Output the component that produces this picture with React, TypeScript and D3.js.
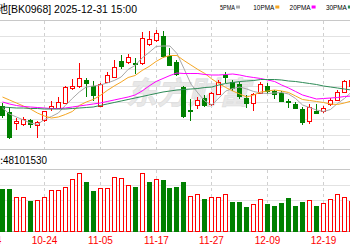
import React from "react";
import * as d3 from "d3";

// trading dates (first two are off-canvas, only used for the tick at 10-14)
const dates = ["10-14","10-15","10-16","10-17","10-20","10-21","10-22","10-23","10-24","10-27","10-28","10-29","10-30","10-31","11-03","11-04","11-05","11-06","11-07","11-10","11-11","11-12","11-13","11-14","11-17","11-18","11-19","11-20","11-21","11-24","11-25","11-26","11-27","11-28","12-01","12-02","12-03","12-04","12-05","12-08","12-09","12-10","12-11","12-12","12-15","12-16","12-17","12-18","12-19","12-22","12-23","12-24","12-25"];
const FIRST = 2; // candles start at 10-16

const opens = [1486,1474,1452,1450,1458,1448,1458,1482,1483,1493,1523,1526,1538,1526,1487,1535,1545,1576,1574,1573,1572,1610,1618,1627,1585,1575,1524,1478,1488,1503,1490,1511,1548,1535,1530,1503,1492,1513,1526,1516,1513,1497,1491,1481,1456,1477,1476,1490,1499,1515,1526];
const closes = [1468,1424,1456,1460,1450,1454,1476,1486,1494,1524,1526,1542,1532,1508,1531,1548,1565,1567,1584,1570,1622,1620,1631,1586,1569,1551,1466,1476,1499,1489,1512,1535,1544,1523,1505,1492,1510,1531,1516,1511,1497,1495,1483,1454,1484,1473,1483,1499,1515,1536,1538];
const highs = [1492,1484,1462,1464,1460,1456,1477,1496,1504,1526,1540,1572,1542,1536,1532,1553,1578,1588,1590,1582,1633,1637,1638,1636,1603,1578,1526,1500,1504,1508,1514,1538,1555,1538,1534,1508,1512,1534,1532,1518,1516,1500,1494,1484,1490,1491,1487,1503,1518,1538,1542];
const lows = [1464,1422,1440,1448,1444,1424,1457,1478,1482,1492,1520,1525,1506,1498,1486,1534,1544,1562,1572,1552,1571,1608,1616,1584,1568,1548,1465,1458,1482,1486,1488,1510,1534,1518,1502,1484,1478,1512,1512,1502,1496,1484,1482,1450,1452,1472,1474,1488,1498,1514,1522];
const volumes = [87.4,87.4,70.7,70.7,62.9,65,70.7,86,86,91.6,109,121,102.8,83.9,89.5,89.5,113.9,110.5,97.1,91.6,121,102.8,108.4,106.3,89.5,91.6,102.8,74,77,66.5,71.9,70.7,77.6,61.4,61.4,51,56.6,66.5,56,53,59.3,68.6,53,61.4,65,53,59.3,67.1,77,70.7,63.5];

const ma5 = [1482,1470,1464,1458,1452,1449,1459,1465,1472,1487,1501,1514,1524,1526,1528,1532,1537,1544,1559,1567,1582,1593,1605,1606,1606,1591,1561,1530,1512,1496,1488,1502,1516,1521,1524,1520,1515,1512,1511,1512,1513,1510,1501,1488,1483,1478,1475,1479,1491,1501,1514];
const ma10 = [1504,1498,1492,1486,1480,1472,1466,1462,1464,1469,1475,1487,1494,1499,1507,1517,1526,1534,1543,1547,1557,1565,1575,1583,1587,1587,1577,1568,1559,1551,1540,1531,1523,1516,1510,1504,1508,1514,1516,1518,1516,1513,1506,1499,1497,1495,1493,1490,1489,1492,1496];
const ma20 = [1494,1490,1487,1485,1484,1483,1482,1481,1481,1482,1484,1486,1488,1490,1492,1495,1498,1501,1504,1508,1516,1526,1535,1541,1547,1552,1551,1551,1551,1549,1548,1548,1549,1550,1548,1545,1543,1541,1538,1535,1528,1522,1515,1508,1504,1500,1501,1502,1503,1505,1506];
const ma30 = [1484,1483,1482,1482,1481,1481,1480,1480,1480,1480,1481,1482,1483,1484,1487,1490,1493,1496,1499,1502,1505,1508,1511,1514,1516,1518,1519,1520,1521,1523,1524,1528,1531,1533,1535,1536,1537,1539,1539,1539,1538,1536,1535,1533,1531,1529,1526,1524,1522,1520,1518];

const tickDates = ["10-14","10-24","11-05","11-17","11-27","12-09","12-19"];
const priceGrid = [1428,1461,1494,1527,1560,1593,1626];
const volGrid = [32.5,65,97.5];
const legendNames = ["5PMA","10PMA","20PMA","30PMA"];
const maColors = ["#a8a8a8","#f5a623","#ff00ff","#2e8b57"];
const maSeries = [ma5, ma10, ma20, ma30];

const RED = "#ff0000";
const GREEN = "#008000";

export default function App() {
  const W = 350, H = 250;
  const x = d3.scaleLinear().domain([2, 48]).range([2, 323]);
  const y = d3.scaleLinear().domain([1400, 1658]).range([149, 20]);
  const yv = d3.scaleLinear().domain([0, 130]).range([231, 169]);
  const cx = (k: number) => Math.round(x(k + FIRST));
  const ry = (v: number) => Math.round(y(v));

  const line = d3.line<number>().x((_, k) => x(k + FIRST) + 0.5).y((v) => y(v));

  const tickX = tickDates.map((t) => Math.round(x(dates.indexOf(t))) + 0.5);

  return (
    <svg width={W} height={H} style={{ position: "fixed", left: 0, top: 0, display: "block", background: "#fff" }}
      fontFamily="'Liberation Sans', Arial, sans-serif">
      <rect x={0} y={0} width={W} height={H} fill="#fff" />
      {/* title */}
      <text x={8} y={13} fontSize={11} fill="#000" textAnchor="end" fontFamily="'Noto Sans CJK SC', sans-serif">固态电池</text>
      <text x={8} y={13} fontSize={11} fill="#000" textLength={129} lengthAdjust="spacingAndGlyphs">[BK0968] 2025-12-31 15:00</text>
      {/* legend */}
      {legendNames.map((n, i) => {
        const lx = 220 + i * 36.3 + (i > 0 ? -3 : 0);
        const tw = n.length === 4 ? 15 : 21;
        return (
          <g key={n}>
            <text x={lx} y={10} fontSize={7} fill="#000" textLength={tw} lengthAdjust="spacingAndGlyphs">{n}</text>
            <rect x={lx + tw + 1} y={5.5} width={4} height={3} fill={maColors[i]} />
          </g>
        );
      })}
      {/* frame lines */}
      <line x1={0} x2={W} y1={20.5} y2={20.5} stroke="#c8c8c8" />
      <line x1={0} x2={W} y1={149.5} y2={149.5} stroke="#c8c8c8" />
      <line x1={0} x2={W} y1={169.5} y2={169.5} stroke="#c8c8c8" />
      <line x1={0} x2={W} y1={231.5} y2={231.5} stroke="#b0b0b0" />
      {priceGrid.map((p) => (
        <line key={p} x1={0} x2={W} y1={ry(p) + 0.5} y2={ry(p) + 0.5} stroke="#e2e2e2" />
      ))}
      {volGrid.map((v) => (
        <line key={v} x1={0} x2={W} y1={Math.round(yv(v)) + 0.5} y2={Math.round(yv(v)) + 0.5} stroke="#e2e2e2" />
      ))}
      {tickX.map((tx, i) => (
        <g key={i}>
          <line x1={tx} x2={tx} y1={21} y2={149} stroke="#d0d0d0" strokeDasharray="3,3" />
          <line x1={tx} x2={tx} y1={170} y2={231} stroke="#d0d0d0" strokeDasharray="3,3" />
        </g>
      ))}
      {/* watermark */}
      <text x={126} y={104} fontSize={31} fontWeight="bold" fontStyle="italic" fill="#e8e8e8" stroke="#dcdcdc" strokeWidth={0.6}
        fontFamily="'Noto Sans CJK SC', sans-serif">东方财富</text>
      {/* candles */}
      {opens.map((o, k) => {
        const c = closes[k];
        const up = c >= o;
        const X = cx(k);
        const top = ry(Math.max(o, c));
        const bot = ry(Math.min(o, c));
        const col = up ? RED : GREEN;
        return (
          <g key={k}>
            <line x1={X + 0.5} x2={X + 0.5} y1={ry(highs[k])} y2={ry(lows[k]) + 1} stroke={col} />
            {up ? (
              <rect x={X - 1.5} y={top + 0.5} width={4} height={Math.max(1, bot - top)} fill="#fff" stroke={col} />
            ) : (
              <rect x={X - 2} y={top} width={5} height={Math.max(1, bot - top + 1)} fill={col} />
            )}
          </g>
        );
      })}
      {/* moving averages */}
      {maSeries.map((s, i) => (
        <path key={i} d={line(s) || ""} fill="none" stroke={maColors[i]} strokeWidth={1} />
      ))}
      {/* volume label */}
      <text x={3} y={164} fontSize={10} fill="#000" textAnchor="end" fontFamily="'Noto Sans CJK SC', sans-serif">量:</text>
      <text x={3} y={164} fontSize={10} fill="#000" textLength={44} lengthAdjust="spacingAndGlyphs">48101530</text>
      {/* volume bars */}
      {volumes.map((v, k) => {
        const up = k === 0 ? closes[k] >= opens[k] : closes[k] >= closes[k - 1];
        const X = cx(k);
        const top = Math.round(yv(v));
        const col = up ? RED : GREEN;
        return up ? (
          <rect key={k} x={X - 1.5} y={top + 0.5} width={4} height={231 - top} fill="#fff" stroke={col} />
        ) : (
          <rect key={k} x={X - 2} y={top} width={5} height={232 - top} fill={col} />
        );
      })}
      {/* date labels */}
      {tickDates.map((t, i) => (
        <text key={t} x={tickX[i]} y={244} fontSize={10} fill={RED} textAnchor="middle">{t}</text>
      ))}
    </svg>
  );
}
